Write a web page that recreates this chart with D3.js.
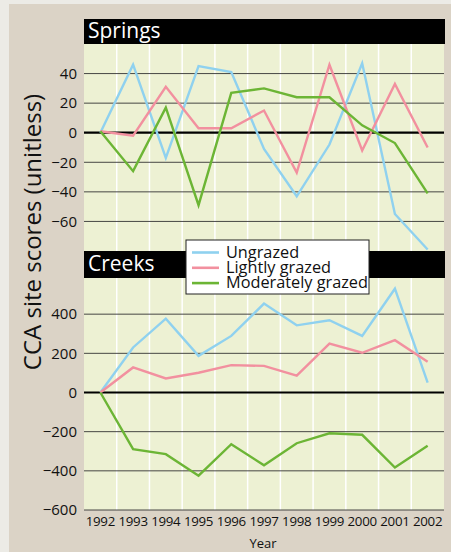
<!DOCTYPE html>
<html>
<head>
<meta charset="utf-8">
<script src="https://cdn.jsdelivr.net/npm/d3@7"></script>
<style>
  body { margin: 0; background: #ecebe6; }
  svg text { font-family: "Open Sans", "Noto Sans", sans-serif; }
</style>
</head>
<body>
<div class="chart"></div>
<script>
// years on the x axis
const years = [1992, 1993, 1994, 1995, 1996, 1997, 1998, 1999, 2000, 2001, 2002];
const seriesNames = ['Ungrazed', 'Lightly grazed', 'Moderately grazed'];
const seriesColors = ['#8fd1ef', '#f2909f', '#6cb535'];

// springs panel values
const springsUngrazed = [0, 46, -17, 45, 41, -11, -43, -8, 47, -55, -79];
const springsLight = [1, -2, 31, 3, 3, 15, -27, 46, -12, 33, -10];
const springsModerate = [1, -26, 17, -49, 27, 30, 24, 24, 5, -7, -41];
const springsTicks = [40, 20, 0, -20, -40, -60];

// creeks panel values
const creeksUngrazed = [0, 230, 377, 187, 289, 454, 343, 369, 289, 530, 50];
const creeksLight = [0, 128, 72, 101, 140, 136, 86, 250, 203, 267, 157];
const creeksModerate = [0, -289, -315, -425, -264, -372, -259, -208, -216, -383, -272];
const creeksTicks = [400, 200, 0, -200, -400, -600];

const width = 451, height = 552;
const svg = d3.select('.chart').append('svg')
    .attr('width', width)
    .attr('height', height);

// beige panel behind everything
svg.append('rect')
    .attr('x', 9).attr('y', 4)
    .attr('width', width - 9).attr('height', height - 4)
    .attr('fill', '#dbd3c6');

const x = d3.scaleBand().domain(years).range([84, 444]);
const minus = v => String(v).replace('-', '\u2212');

function panel(title, series, ticks, domain, top, bottom, headTop) {
    const y = d3.scaleLinear().domain(domain).range([bottom, top]);

    svg.append('rect')
        .attr('x', 84).attr('y', top)
        .attr('width', 360).attr('height', bottom - top)
        .attr('fill', '#edf1d3');

    // white vertical lines between the years
    svg.selectAll(null)
        .data(years.slice(1))
        .enter()
        .append('line')
        .attr('x1', d => x(d)).attr('x2', d => x(d))
        .attr('y1', top).attr('y2', bottom)
        .attr('stroke', '#fff')
        .attr('stroke-width', 1.5);

    // horizontal grid
    svg.selectAll(null)
        .data(ticks)
        .enter()
        .append('line')
        .attr('x1', 84).attr('x2', 444)
        .attr('y1', d => y(d)).attr('y2', d => y(d))
        .attr('stroke', d => d === 0 ? '#000' : '#333')
        .attr('stroke-width', d => d === 0 ? 2.2 : 0.9);

    const axis = svg.append('g')
        .attr('transform', 'translate(84,0)')
        .call(d3.axisLeft(y).tickValues(ticks).tickSize(0).tickPadding(7).tickFormat(minus));
    axis.select('.domain').remove();
    axis.selectAll('text').attr('font-size', 15).attr('fill', '#111')
        .style('font-family', '"Open Sans", sans-serif');

    const line = d3.line()
        .x((d, i) => x(years[i]) + x.bandwidth() / 2)
        .y(d => y(d));

    series.forEach((s, i) => {
        svg.append('path')
            .datum(s)
            .attr('d', line)
            .attr('fill', 'none')
            .attr('stroke', seriesColors[i])
            .attr('stroke-width', 2.4)
            .attr('stroke-linejoin', 'miter');
    });

    svg.append('rect')
        .attr('x', 84).attr('y', headTop)
        .attr('width', 361).attr('height', 25)
        .attr('fill', '#000');
    svg.append('text')
        .text(title)
        .attr('x', 88).attr('y', headTop + 19)
        .attr('font-size', 21)
        .attr('fill', '#fff');
}

panel('Springs', [springsUngrazed, springsLight, springsModerate], springsTicks,
    [-80, 60], 44, 251, 19);
panel('Creeks', [creeksUngrazed, creeksLight, creeksModerate], creeksTicks,
    [-600, 600], 275, 510, 251);

// redraw header over the springs line ends
svg.append('rect')
    .attr('x', 84).attr('y', 251)
    .attr('width', 361).attr('height', 27)
    .attr('fill', '#000');
svg.append('text')
    .text('Creeks')
    .attr('x', 88).attr('y', 271)
    .attr('font-size', 21)
    .attr('fill', '#fff');

// x axis labels
svg.selectAll('.year')
    .data(years)
    .enter()
    .append('text')
    .attr('class', 'year')
    .text(d => d)
    .attr('x', d => x(d) + x.bandwidth() / 2)
    .attr('y', 526)
    .attr('text-anchor', 'middle')
    .attr('font-size', 13.3)
    .attr('letter-spacing', -0.3)
    .attr('fill', '#111');

svg.append('text')
    .text('Year')
    .attr('x', 263).attr('y', 548)
    .attr('text-anchor', 'middle')
    .attr('font-size', 13)
    .attr('fill', '#111');

svg.append('text')
    .text('CCA site scores (unitless)')
    .attr('transform', 'translate(41,232) rotate(-90)')
    .attr('text-anchor', 'middle')
    .attr('font-size', 24)
    .attr('fill', '#111');

// legend
const legend = svg.append('g').attr('transform', 'translate(186,240)');
legend.append('rect')
    .attr('width', 183).attr('height', 54)
    .attr('fill', '#fff')
    .attr('stroke', '#222')
    .attr('stroke-width', 1);
seriesNames.forEach((n, i) => {
    legend.append('line')
        .attr('x1', 6).attr('x2', 33)
        .attr('y1', 12.5 + i * 15.3).attr('y2', 12.5 + i * 15.3)
        .attr('stroke', seriesColors[i])
        .attr('stroke-width', 2.6);
    legend.append('text')
        .text(n)
        .attr('x', 40).attr('y', 17.5 + i * 15.3)
        .attr('font-size', 16.3)
        .attr('fill', '#111');
});
</script>
</body>
</html>
